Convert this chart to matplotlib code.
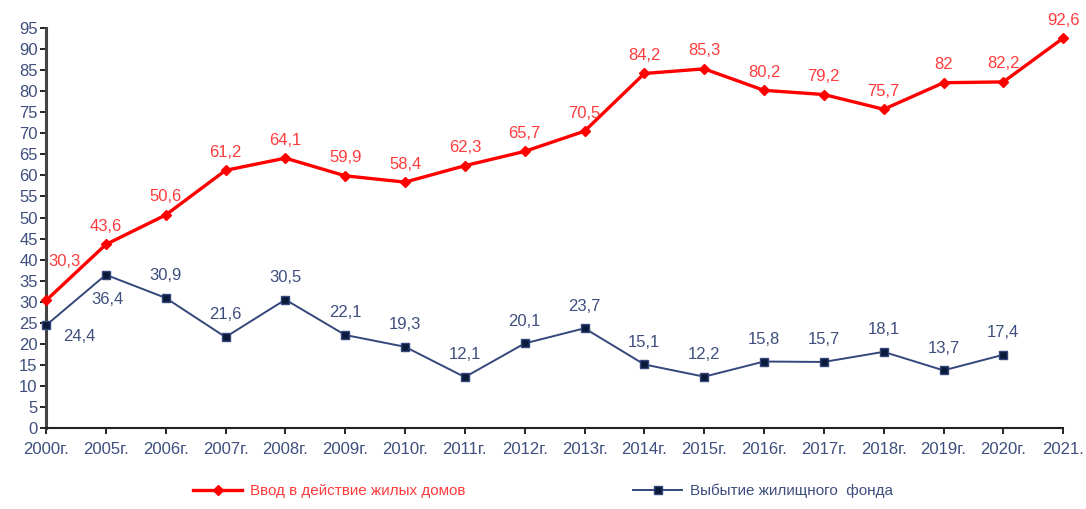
import matplotlib.pyplot as plt

plt.rcParams['font.family'] = ['Liberation Sans', 'DejaVu Sans']

years = ['2000г.', '2005г.', '2006г.', '2007г.', '2008г.', '2009г.', '2010г.', '2011г.',
         '2012г.', '2013г.', '2014г.', '2015г.', '2016г.', '2017г.', '2018г.', '2019г.',
         '2020г.', '2021.']
vvod = [30.3, 43.6, 50.6, 61.2, 64.1, 59.9, 58.4, 62.3, 65.7, 70.5, 84.2, 85.3,
        80.2, 79.2, 75.7, 82, 82.2, 92.6]
vybytie = [24.4, 36.4, 30.9, 21.6, 30.5, 22.1, 19.3, 12.1, 20.1, 23.7, 15.1, 12.2,
           15.8, 15.7, 18.1, 13.7, 17.4]

red = '#ff0000'
red_txt = '#ff3b3b'
blue = '#34477a'
txt = '#3e4f7e'

def fmt(v):
    s = ('%g' % v).replace('.', ',')
    return s

fig = plt.figure(figsize=(10.86, 5.09), dpi=100)
ax = fig.add_axes([0.0424, 0.159, 0.9366, 0.786])

x_red = list(range(len(vvod)))
x_blue = list(range(len(vybytie)))

ax.plot(x_red, vvod, color=red, lw=2.4, marker='D', ms=5, mfc=red, mec=red,
        label='Ввод в действие жилых домов', zorder=3)
ax.plot(x_blue, vybytie, color=blue, lw=1.4, marker='s', ms=5.5, mfc='#0a1a3a', mec=blue,
        label='Выбытие жилищного  фонда', zorder=3)

for i, v in enumerate(vvod):
    dx, dy = (0, 13)
    if i == 0:
        dx, dy = (13, 28)
    ax.annotate(fmt(v), (i, v), xytext=(dx, dy), textcoords='offset points',
                ha='center', va='center', color=red_txt, fontsize=12)

for i, v in enumerate(vybytie):
    dx, dy = (0, 16)
    if i == 0:
        dx, dy = (24, -8)
    elif i == 1:
        dx, dy = (1, -18)
    ax.annotate(fmt(v), (i, v), xytext=(dx, dy), textcoords='offset points',
                ha='center', va='center', color=txt, fontsize=12)

ax.set_xlim(0, len(years) - 1)
ax.set_ylim(0, 95)
ax.set_yticks(range(0, 96, 5))
ax.set_xticks(range(len(years)))
ax.set_xticklabels(years)
ax.tick_params(axis='both', colors='black', labelcolor=txt, labelsize=12, length=4, width=1.2)
ax.tick_params(axis='y', pad=2)
ax.tick_params(axis='x', pad=6)

ax.spines[['top', 'right']].set_visible(False)
ax.spines['left'].set_color('#444444')
ax.spines['left'].set_linewidth(2.2)
ax.spines['bottom'].set_color('#222222')
ax.spines['bottom'].set_linewidth(1.5)

leg = fig.legend(loc='center', bbox_to_anchor=(0.5, 0.035), ncol=2, frameon=False,
                 fontsize=11, columnspacing=11, handlelength=3.2, handletextpad=0.5)
leg.get_texts()[0].set_color(red_txt)
leg.get_texts()[1].set_color(txt)

for l in ax.lines:
    l.set_clip_on(False)

fig.savefig('out.png', dpi=100)
